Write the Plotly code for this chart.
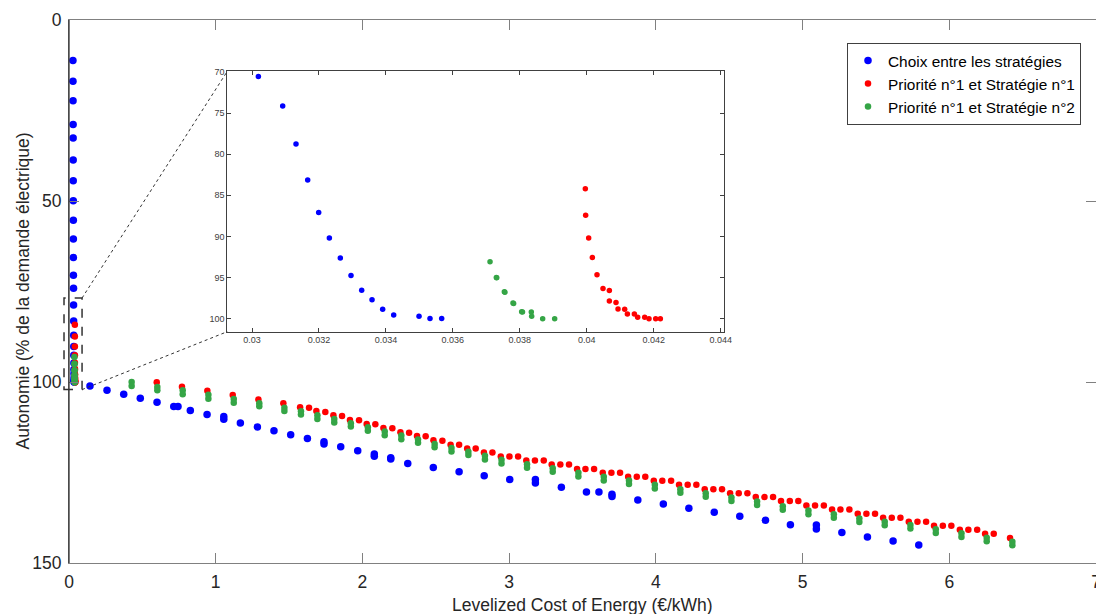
import plotly.graph_objects as go

# ---------------- data ----------------
# near-zero column (blue) shown in main axes only
blue_col_x = [0.0268, 0.0272, 0.0276, 0.0280, 0.0283, 0.0286, 0.0289, 0.0292, 0.0295, 0.0298, 0.0300]
blue_col_y = [11.2, 16.9, 22.3, 28.9, 32.6, 38.7, 44.4, 49.9, 55.3, 60.5, 65.6]

# zoomed region (also shown in main axes)
blue_zoom_x = [0.030189, 0.030916, 0.031314, 0.031663, 0.031991, 0.032310, 0.032638, 0.032957,
               0.033276, 0.033585, 0.033903, 0.034232, 0.034989, 0.035317, 0.035666]
blue_zoom_y = [70.52, 74.13, 78.74, 83.12, 87.09, 90.18, 92.62, 94.75,
               96.55, 97.72, 98.88, 99.56, 99.72, 100.0, 100.0]

green_zoom_x = [0.037110, 0.037299, 0.037310, 0.037538, 0.037555, 0.037796, 0.037815, 0.038055,
                0.038080, 0.038344, 0.038354, 0.038683, 0.039041]
green_zoom_y = [93.10, 94.99, 95.02, 96.75, 96.80, 98.12, 98.16, 99.16,
                99.20, 99.20, 99.72, 100.04, 100.04]

red_zoom_x = [0.039957, 0.039967, 0.040057, 0.040167, 0.040306, 0.040485, 0.040675, 0.040675,
              0.040874, 0.040934, 0.041133, 0.041213, 0.041422, 0.041521, 0.041731, 0.041860,
              0.042059, 0.042199]
red_zoom_y = [84.20, 87.41, 90.18, 92.58, 94.67, 96.35, 96.59, 97.88,
              98.04, 98.84, 98.88, 99.44, 99.44, 99.84, 99.84, 100.04,
              100.04, 100.04]

# main cloud
blue_main_x = [0.143, 0.259, 0.373, 0.486, 0.600, 0.714, 0.743, 0.827, 0.941, 1.055, 1.055,
               1.168, 1.284, 1.397, 1.511, 1.625, 1.738, 1.738, 1.852, 1.968, 2.081, 2.081,
               2.193, 2.193, 2.309, 2.483, 2.659, 2.830, 3.004, 3.179, 3.179, 3.356, 3.527,
               3.612, 3.701, 3.701, 3.877, 4.051, 4.225, 4.398, 4.572, 4.747, 4.917, 5.094,
               5.094, 5.268, 5.442, 5.617, 5.792]
blue_main_y = [101.1, 102.3, 103.4, 104.5, 105.6, 106.8, 106.8, 107.9, 109.0, 109.5, 110.3,
               111.3, 112.4, 113.5, 114.6, 115.6, 116.5, 117.1, 117.9, 119.0, 119.9, 120.5,
               120.9, 121.3, 122.5, 123.6, 124.8, 125.9, 126.9, 126.9, 127.9, 129.1, 130.4,
               130.4, 131.0, 131.6, 132.6, 133.7, 134.9, 136.0, 137.1, 138.2, 139.4, 139.5,
               140.6, 141.6, 142.8, 143.9, 145.0]

red_main_x = [0.598, 0.770, 0.943, 1.116, 1.291, 1.461, 1.575, 1.636, 1.686, 1.747, 1.802,
              1.861, 1.915, 1.977, 2.029, 2.088, 2.143, 2.204, 2.259, 2.318, 2.372, 2.431,
              2.484, 2.545, 2.601, 2.659, 2.714, 2.772, 2.828, 2.886, 2.943, 3.002, 3.061,
              3.117, 3.176, 3.236, 3.290, 3.349, 3.408, 3.463, 3.520, 3.579, 3.638, 3.697,
              3.756, 3.811, 3.870, 3.928, 3.986, 4.044, 4.104, 4.158, 4.217, 4.276, 4.333,
              4.392, 4.451, 4.506, 4.565, 4.624, 4.681, 4.740, 4.799, 4.853, 4.913, 4.971,
              5.026, 5.085, 5.145, 5.201, 5.258, 5.319, 5.376, 5.435, 5.494, 5.549, 5.608,
              5.667, 5.724, 5.783, 5.842, 5.896, 5.956, 6.014, 6.072, 6.130, 6.190, 6.244,
              6.303, 6.414]
red_main_y = [100.1, 101.3, 102.4, 103.6, 104.8, 105.9, 107.0, 107.1, 108.0, 108.3, 109.2,
              109.4, 110.5, 110.6, 111.6, 111.7, 112.7, 112.8, 113.9, 114.0, 114.9, 115.0,
              116.1, 116.2, 117.3, 117.3, 118.4, 118.4, 119.5, 119.5, 120.6, 120.6, 120.6,
              121.7, 121.7, 121.7, 122.8, 122.8, 122.8, 124.0, 124.0, 124.0, 125.1, 125.1,
              125.1, 126.2, 126.2, 126.2, 127.3, 127.3, 127.3, 128.4, 128.4, 128.4, 129.6,
              129.6, 129.6, 130.7, 130.7, 130.7, 131.8, 131.8, 131.8, 132.9, 132.9, 132.9,
              134.1, 134.1, 134.1, 135.2, 135.2, 135.2, 136.4, 136.4, 136.4, 137.5, 137.5,
              137.5, 138.6, 138.6, 138.6, 139.7, 139.7, 139.7, 140.8, 140.8, 140.8, 141.9,
              141.9, 143.1]

# green points come in near-duplicate pairs (upper / lower)
green_main_x = [0.427, 0.602, 0.775, 0.950, 1.123, 1.297, 1.468, 1.581, 1.693, 1.808, 1.921,
                2.037, 2.152, 2.265, 2.379, 2.492, 2.607, 2.722, 2.835, 2.948, 3.122, 3.297,
                3.472, 3.645, 3.817, 3.993, 4.167, 4.340, 4.515, 4.690, 4.865, 5.040, 5.213,
                5.387, 5.560, 5.735, 5.908, 6.083, 6.255, 6.430]
green_main_y_upper = [100.0, 101.4, 102.3, 103.5, 104.7, 105.9, 107.1, 108.1, 109.2, 110.2, 111.4,
                      112.5, 113.7, 114.8, 115.9, 117.1, 118.2, 119.3, 120.4, 121.5, 122.7, 123.8,
                      125.1, 126.2, 127.2, 128.4, 129.6, 130.7, 131.9, 133.0, 134.3, 135.5, 136.5,
                      137.7, 138.6, 139.5, 140.7, 141.8, 143.0, 144.1]
green_main_y_lower = [101.1, 102.3, 103.4, 104.6, 105.7, 106.7, 108.0, 109.0, 110.2, 111.2, 112.3,
                      113.5, 114.7, 115.8, 116.8, 118.0, 119.2, 120.2, 121.4, 122.5, 123.7, 124.8,
                      126.1, 127.2, 128.2, 129.4, 130.6, 131.7, 132.9, 134.0, 135.3, 136.5, 137.5,
                      138.7, 139.6, 140.5, 141.7, 142.8, 144.0, 145.1]

series_names = ["Choix entre les stratégies", "Priorité n°1 et Stratégie n°1", "Priorité n°1 et Stratégie n°2"]

x_ticks = [0, 1, 2, 3, 4, 5, 6, 7]
y_ticks = [0, 50, 100, 150]
inset_x_ticks = [0.030, 0.032, 0.034, 0.036, 0.038, 0.040, 0.042, 0.044]
inset_x_labels = ["0.03", "0.032", "0.034", "0.036", "0.038", "0.04", "0.042", "0.044"]
inset_y_ticks = [70, 75, 80, 85, 90, 95, 100]

# ---------------- style ----------------
BLUE = "#0000ff"
RED = "#ff0000"
GREEN = "#35a546"
FONT = "Liberation Sans, Arial, Helvetica, sans-serif"
TXT = "#262626"

W, H = 1096, 614
ML, MR, MT, MB = 69, 0, 20, 51

X_RANGE = [0, 7]
Y_RANGE = [150, 0]
INSET_X_RANGE = [0.02926, 0.04411]
INSET_Y_RANGE = [101.6, 69.9]
inset_dom_x = [0.1541, 0.6381]
inset_dom_y = [0.4260, 0.9055]

fig = go.Figure()

# main axes traces
fig.add_trace(go.Scatter(x=blue_col_x + blue_zoom_x + blue_main_x,
                         y=blue_col_y + blue_zoom_y + blue_main_y,
                         mode="markers", name=series_names[0],
                         marker=dict(color=BLUE, size=7.5), xaxis="x", yaxis="y"))
fig.add_trace(go.Scatter(x=red_zoom_x + red_main_x, y=red_zoom_y + red_main_y,
                         mode="markers", name=series_names[1],
                         marker=dict(color=RED, size=6.5), xaxis="x", yaxis="y"))
fig.add_trace(go.Scatter(x=green_zoom_x + green_main_x + green_main_x,
                         y=green_zoom_y + green_main_y_upper + green_main_y_lower,
                         mode="markers", name=series_names[2],
                         marker=dict(color=GREEN, size=6.5), xaxis="x", yaxis="y"))

# inset traces
fig.add_trace(go.Scatter(x=blue_zoom_x, y=blue_zoom_y, mode="markers", showlegend=False,
                         marker=dict(color=BLUE, size=5.5), xaxis="x2", yaxis="y2"))
fig.add_trace(go.Scatter(x=green_zoom_x, y=green_zoom_y, mode="markers", showlegend=False,
                         marker=dict(color=GREEN, size=5.5), xaxis="x2", yaxis="y2"))
fig.add_trace(go.Scatter(x=red_zoom_x, y=red_zoom_y, mode="markers", showlegend=False,
                         marker=dict(color=RED, size=5.5), xaxis="x2", yaxis="y2"))

axis_common = dict(showgrid=False, zeroline=False, showline=True, mirror="ticks",
                   ticks="inside", ticklen=10, tickwidth=1, tickcolor="#808080",
                   linecolor="#808080", linewidth=1,
                   tickfont=dict(family=FONT, size=17.5, color=TXT))

fig.update_layout(
    width=W, height=H,
    margin=dict(l=ML, r=MR, t=MT, b=MB, autoexpand=False),
    paper_bgcolor="white", plot_bgcolor="white",
    font=dict(family=FONT, color=TXT),
    xaxis=dict(range=X_RANGE, tickvals=x_ticks, domain=[0, 1], anchor="y",
               ticklabelstandoff=3, ticklabeloverflow="allow", **axis_common),
    yaxis=dict(range=Y_RANGE, tickvals=y_ticks, domain=[0, 1], anchor="x",
               ticklabelstandoff=3, ticklabeloverflow="allow", **axis_common),
    xaxis2=dict(range=INSET_X_RANGE, tickvals=inset_x_ticks, ticktext=inset_x_labels,
                domain=inset_dom_x, anchor="y2", showgrid=False, zeroline=False,
                showline=True, mirror="ticks", ticks="inside", ticklen=4,
                tickcolor="#404040", linecolor="#404040",
                tickfont=dict(family=FONT, size=9, color="#404040")),
    yaxis2=dict(range=INSET_Y_RANGE, tickvals=inset_y_ticks,
                domain=inset_dom_y, anchor="x2", showgrid=False, zeroline=False,
                showline=True, mirror="ticks", ticks="inside", ticklen=4,
                tickcolor="#404040", linecolor="#404040",
                tickfont=dict(family=FONT, size=9, color="#404040")),
    legend=dict(x=0.9854, y=0.9576, xanchor="right", yanchor="top",
                bgcolor="white", bordercolor="#404040", borderwidth=1,
                font=dict(family=FONT, size=15.4, color="black"),
                tracegroupgap=0),
    showlegend=True,
)

# helpers converting main-axis data coords to paper coords (for decorations outside clip)
def px_x(v):
    return (v - X_RANGE[0]) / (X_RANGE[1] - X_RANGE[0])

def px_y(v):
    return (v - Y_RANGE[0]) / (Y_RANGE[1] - Y_RANGE[0])

box_x = [-0.034, 0.089]
box_y = [76.8, 102.1]
bx0, bx1 = px_x(box_x[0]), px_x(box_x[1])
by_top, by_bot = px_y(box_y[0]), px_y(box_y[1])

shapes = [
    # dark left axis line
    dict(type="line", xref="paper", yref="paper", x0=0, x1=0, y0=0, y1=1,
         line=dict(color="#262626", width=1.2), layer="above"),
    # dashed zoom box
    dict(type="rect", xref="paper", yref="paper", x0=bx0, x1=bx1, y0=by_bot, y1=by_top,
         line=dict(color="#333333", width=1.5, dash="dash"), layer="above"),
    # connectors
    dict(type="line", xref="paper", yref="paper", x0=bx1, y0=by_top,
         x1=inset_dom_x[0], y1=inset_dom_y[1],
         line=dict(color="#333333", width=1, dash="dot"), layer="above"),
    dict(type="line", xref="paper", yref="paper", x0=bx1, y0=by_bot,
         x1=inset_dom_x[0], y1=inset_dom_y[0],
         line=dict(color="#333333", width=1, dash="dot"), layer="above"),
]
fig.update_layout(shapes=shapes)

# axis titles
fig.add_annotation(text="Levelized Cost of Energy (€/kWh)", xref="paper", yref="paper",
                   x=0.5, y=-(605 - (H - MB)) / (H - MT - MB), xanchor="center", yanchor="middle",
                   showarrow=False, font=dict(family=FONT, size=17.5, color=TXT))
fig.add_annotation(text="Autonomie (% de la demande électrique)", xref="paper", yref="paper",
                   x=-(ML - 22) / (W - ML - MR), y=0.5, xanchor="center", yanchor="middle",
                   textangle=-90, showarrow=False, font=dict(family=FONT, size=17.5, color=TXT))

fig.write_html("out.html", config={"displayModeBar": False},
               post_script="document.body.style.margin='0px';document.body.style.overflow='hidden';")
